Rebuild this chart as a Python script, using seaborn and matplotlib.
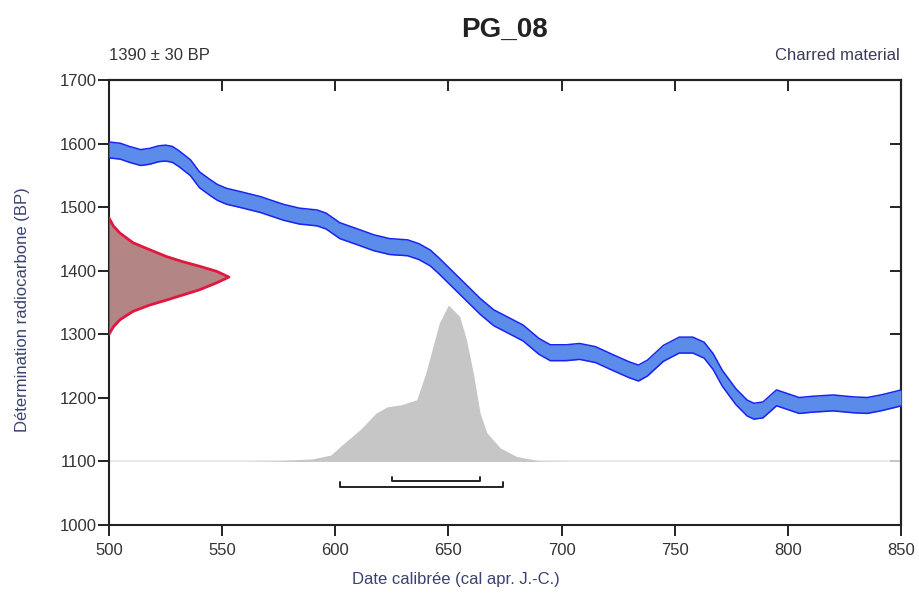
import numpy as np
import matplotlib
matplotlib.use("Agg")
import matplotlib.pyplot as plt
import seaborn as sns

# Courbe de calibration (centre, BP)
cal_years = [500, 505, 509, 514, 518, 522, 525, 528, 531, 536,
             540, 545, 548, 552, 558, 567, 577, 584, 592, 596,
             602, 610, 617, 624, 632, 637, 642, 646, 652, 658,
             664, 670, 676, 683, 690, 695, 702, 708, 715, 723,
             730, 734, 738, 745, 752, 758, 763, 767, 771, 777,
             782, 785, 789, 795, 800, 805, 811, 820, 829, 835,
             841, 848, 850]
cal_bp = [1590, 1588, 1583, 1578, 1580, 1584, 1585, 1583, 1576, 1562,
          1543, 1530, 1523, 1517, 1512, 1504, 1492, 1486, 1483, 1478,
          1463, 1453, 1444, 1438, 1436, 1430, 1420, 1407, 1386, 1365,
          1344, 1326, 1315, 1302, 1281, 1271, 1271, 1273, 1268, 1255,
          1244, 1239, 1247, 1270, 1283, 1283, 1275, 1257, 1231, 1202,
          1184, 1179, 1181, 1200, 1194, 1188, 1190, 1192, 1189, 1188,
          1192, 1198, 1200]
cal_err = 12.5

# Date radiocarbone mesuree (distribution sur l'axe Y)
c14_age = 1390
c14_sd = 30
c14_offset = [-90, -78, -67, -54, -44, -36, -28, -20, -9, 0,
              9, 17, 24, 32, 43, 54, 69, 80, 93]
c14_width = [0, 2, 4.9, 10.6, 18, 25.6, 32.8, 40, 47.6, 53,
             47.6, 40, 32.8, 25.6, 18, 10.6, 4.9, 2, 0]

# Distribution calibree (hauteur en BP au-dessus de la ligne 1100)
post_years = [560, 575, 590, 598, 603, 611, 618, 623, 629, 636, 640, 646, 650,
              655, 658, 661, 664, 667, 673, 680, 690, 705]
post_bp = [1100, 1101, 1104, 1110, 1126, 1150, 1176, 1186, 1189, 1197, 1239,
           1318, 1346, 1328, 1291, 1239, 1176, 1145, 1121, 1108, 1101, 1100]
post_base = 1100

# Intervalles (68.2 % et 95.4 %)
range_1s = (625, 664)
range_2s = (602, 674)

sns.set_theme(style="ticks")
plt.rcParams["font.family"] = ["Liberation Sans", "DejaVu Sans"]

fig = plt.figure(figsize=(9.19, 5.93), dpi=100)
ax = fig.add_axes([0.1186, 0.1147, 0.8618, 0.7504])

# ligne de base + distribution calibree
ax.axhline(post_base, color="#e4e4e4", lw=1.2, zorder=1)
ax.fill_between(post_years, post_base, post_bp, color="#c6c6c6", lw=0, zorder=2)

# courbe de calibration
cal_bp = np.array(cal_bp)
ax.fill_between(cal_years, cal_bp - cal_err, cal_bp + cal_err,
                color="#5b8cea", lw=0, zorder=3)
sns.lineplot(x=cal_years, y=cal_bp + cal_err, color="#1a22f0", lw=1.1, ax=ax, zorder=4)
sns.lineplot(x=cal_years, y=cal_bp - cal_err, color="#1a22f0", lw=1.1, ax=ax, zorder=4)

# distribution de la mesure radiocarbone
c14_y = [c14_age + o for o in c14_offset]
c14_x = [500 + w for w in c14_width]
ax.fill_betweenx(c14_y, 500, c14_x, color="#b38585", lw=0, zorder=3)
ax.plot(c14_x, c14_y, color="#e0183f", lw=2, zorder=4,
        solid_joinstyle="round", solid_capstyle="round")

# crochets des intervalles
for (a, b), y in [(range_1s, 1069), (range_2s, 1060)]:
    ax.plot([a, a, b, b], [y + 7, y, y, y + 7], color="#222222", lw=1.4, zorder=5)

ax.set_xlim(500, 850)
ax.set_ylim(1000, 1700)
ax.set_xticks(np.arange(500, 851, 50))
ax.set_yticks(np.arange(1000, 1701, 100))
ax.tick_params(axis="both", direction="out", length=8, width=1.4,
               labelsize=12, colors="#222222", labelcolor="#333333")
ax.tick_params(axis="y", pad=1)
ax.tick_params(axis="x", pad=5)

# ticks superieurs et droits vers l'interieur
ax2 = ax.secondary_xaxis("top")
ax2.set_xticks(np.arange(500, 851, 50))
ax2.tick_params(direction="in", length=8, width=1.4, labeltop=False, colors="#222222")
ax3 = ax.secondary_yaxis("right")
ax3.set_yticks(np.arange(1000, 1701, 100))
ax3.tick_params(direction="in", length=8, width=1.4, labelright=False, colors="#222222")
for a in (ax, ax2, ax3):
    for s in a.spines.values():
        s.set_linewidth(1.5)
        s.set_color("#222222")

ax.set_xlabel("Date calibrée (cal apr. J.-C.)", fontsize=12, color="#3a4270")
ax.set_ylabel("Détermination radiocarbone (BP)", fontsize=12, color="#3a4270")
ax.xaxis.set_label_coords(0.438, -0.106)
ax.yaxis.set_label_coords(-0.100, 0.483)

fig.text(0.549, 0.949, "PG_08", ha="center", va="center", fontsize=20,
         fontweight="bold", color="#222222")
fig.text(0.1186, 0.907, "1390 ± 30 BP", ha="left", va="center", fontsize=12,
         color="#333333")
fig.text(0.979, 0.907, "Charred material", ha="right", va="center", fontsize=12,
         color="#3a3a5a")

plt.savefig("out.png", dpi=100)
